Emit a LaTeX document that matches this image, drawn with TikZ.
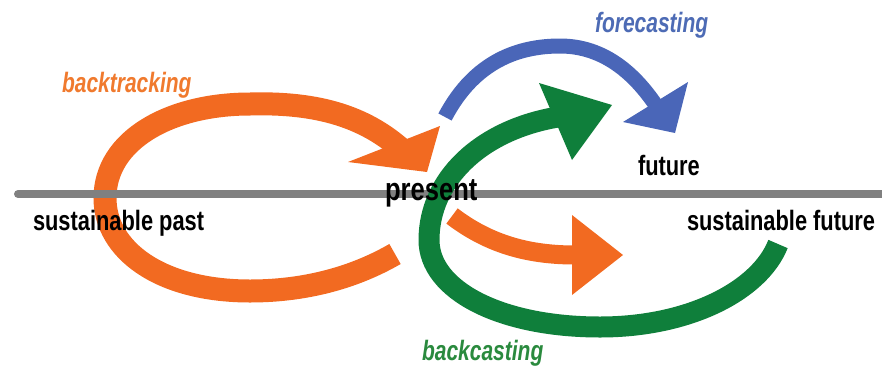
\documentclass[tikz,border=0pt]{standalone}
\usepackage{fontspec}
\setmainfont{Liberation Sans}
\definecolor{arrorange}{HTML}{F26A21}
\definecolor{arrblue}{HTML}{4A66B8}
\definecolor{arrgreen}{HTML}{0F7F3B}
\definecolor{axisgray}{HTML}{808080}
\definecolor{txtorange}{HTML}{F07A2E}
\definecolor{txtblue}{HTML}{4D6BB5}
\definecolor{txtgreen}{HTML}{2A8A3E}
\newcommand{\narrow}[2][0.78]{\scalebox{#1}[1]{#2}}
\tikzset{
  band/.style={line width=#1, line cap=butt},
  timeline/.style={draw=axisgray, line width=8pt, line cap=round},
  tag/.style={inner sep=0pt, outer sep=0pt, anchor=base west,
    font=\fontsize{28}{30}\selectfont\bfseries},
  bigtag/.style={tag, font=\fontsize{32}{34}\selectfont\bfseries},
  flowtag/.style={tag, font=\fontsize{28}{30}\selectfont\bfseries\itshape}
}
\begin{document}
\begin{tikzpicture}[x=1pt,y=-1pt]
\useasboundingbox (0,0) rectangle (882,370);

% backtracking loop: from the lower right round the left to the present
\draw[arrorange, band=23pt]
  (395,254) .. controls (350,280) and (300,291) .. (250,291)
  .. controls (160,291) and (105,250) .. (105,198)
  .. controls (105,140) and (170,104) .. (250,104)
  .. controls (320,102) and (365,118) .. (400,148);
\fill[arrorange] (440,126) -- (348,162) -- (427,172) -- cycle;

% time line
\draw[timeline] (18,194) -- (882,194);

% backcasting loop
\draw[arrgreen, band=21pt]
  (778,244) .. controls (760,290) and (690,327) .. (600,327)
  .. controls (500,327) and (429,290) .. (429,240)
  .. controls (429,180) and (480,130) .. (558,117);
\fill[arrgreen] (539,83) -- (612,105) -- (572,160) -- cycle;

% forecasting arc
\draw[arrblue, band=15pt]
  (445,117) .. controls (475,60) and (520,46) .. (560,46)
  .. controls (605,46) and (635,75) .. (655,104);
\fill[arrblue] (688,82) -- (623,122) -- (675,133) -- cycle;

% present towards the sustainable future
\draw[arrorange, band=19pt]
  (452,216) .. controls (490,245) and (530,255) .. (575,255);
\fill[arrorange] (572,215) -- (623,255) -- (572,295) -- cycle;

% labels
\node[tag] (past) at (33,230) {\narrow{sustainable past}};
\node[bigtag] (present) at (385,200) {\narrow[0.8]{present}};
\node[tag] (future) at (638,175) {\narrow{future}};
\node[tag] (sfuture) at (687,230) {\narrow{sustainable future}};
\node[flowtag, text=txtorange] (backtracking) at (62,92) {\narrow[0.75]{backtracking}};
\node[flowtag, text=txtblue] (forecasting) at (595,32) {\narrow[0.75]{forecasting}};
\node[flowtag, text=txtgreen] (backcasting) at (422,360) {\narrow[0.75]{backcasting}};
\end{tikzpicture}
\end{document}
